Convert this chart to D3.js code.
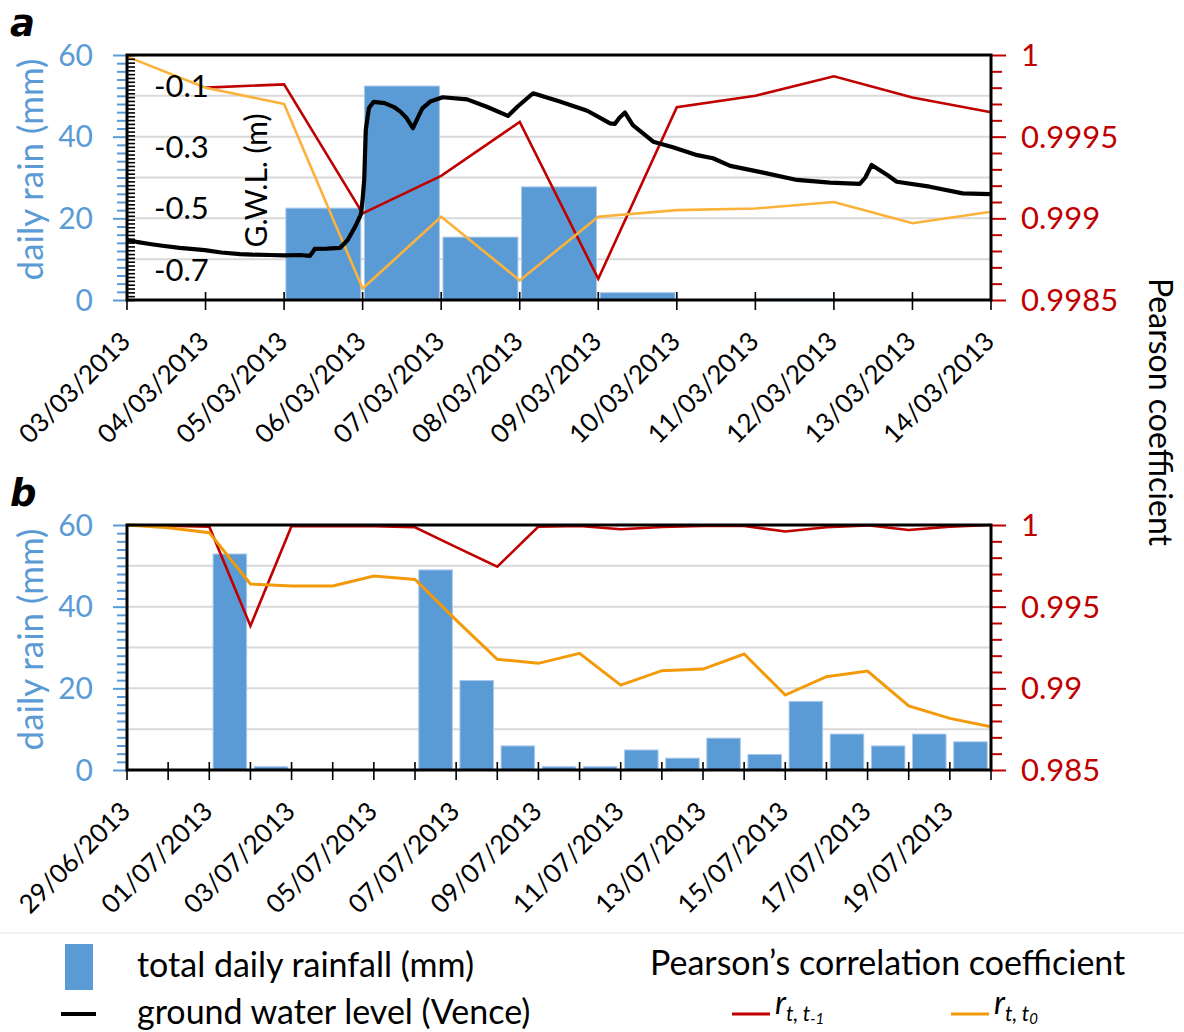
<!DOCTYPE html>
<html><head><meta charset="utf-8">
<script src="https://cdn.jsdelivr.net/npm/d3@7/dist/d3.min.js"></script>
<style>
body{margin:0;background:#fff;}
svg{display:block;font-family:Lato,"Noto Sans",sans-serif;}
</style></head>
<body><svg id="c" width="1184" height="1032"></svg>
<script>
// ---------- DATA ----------
const datesA = ["03/03/2013","04/03/2013","05/03/2013","06/03/2013","07/03/2013","08/03/2013","09/03/2013","10/03/2013","11/03/2013","12/03/2013","13/03/2013","14/03/2013"];
const rainA = [0, 0, 22.5, 52.4, 15.4, 27.7, 1.8, 0, 0.3, 0, 0];
const rTt1A = [null, 0.99980, 0.99982, 0.99903, 0.99926, 0.99959, 0.99863, 0.99968, 0.99975, 0.99987, 0.99974, 0.99965];
const rTt0A = [0.99999, 0.99980, 0.99970, 0.99857, 0.99901, 0.99862, 0.99901, 0.99905, 0.99906, 0.99910, 0.99897, 0.99904];
// ground water level: days since 03/03/2013 and level (m)
const gwlDay = [0,0.12,0.29,0.45,0.67,0.85,0.99,1.2,1.44,1.6,1.82,2.0,2.2,2.33,2.36,2.39,2.55,2.71,2.81,2.91,2.98,3.0,3.02,3.04,3.08,3.14,3.28,3.4,3.48,3.56,3.64,3.7,3.76,3.86,4.02,4.33,4.58,4.85,4.97,5.17,5.51,5.86,6.15,6.21,6.27,6.34,6.44,6.7,6.95,7.26,7.46,7.68,8.1,8.53,8.95,9.33,9.4,9.48,9.68,9.8,10.22,10.64,10.99];
const gwlLevel = [-0.604,-0.610,-0.617,-0.623,-0.630,-0.634,-0.637,-0.645,-0.650,-0.652,-0.653,-0.654,-0.653,-0.656,-0.645,-0.633,-0.632,-0.630,-0.604,-0.558,-0.519,-0.47,-0.408,-0.245,-0.173,-0.153,-0.157,-0.17,-0.185,-0.206,-0.239,-0.206,-0.174,-0.152,-0.138,-0.145,-0.169,-0.199,-0.169,-0.125,-0.152,-0.182,-0.223,-0.225,-0.205,-0.188,-0.229,-0.283,-0.301,-0.327,-0.337,-0.362,-0.384,-0.408,-0.417,-0.421,-0.400,-0.359,-0.392,-0.414,-0.430,-0.452,-0.454];

const datesB = ["29/06/2013","30/06/2013","01/07/2013","02/07/2013","03/07/2013","04/07/2013","05/07/2013","06/07/2013","07/07/2013","08/07/2013","09/07/2013","10/07/2013","11/07/2013","12/07/2013","13/07/2013","14/07/2013","15/07/2013","16/07/2013","17/07/2013","18/07/2013","19/07/2013","20/07/2013"];
const rainB = [0, 0, 52.9, 0.8, 0, 0, 0, 49, 21.9, 5.9, 0.8, 0.8, 4.9, 2.9, 7.8, 3.8, 16.8, 8.8, 5.9, 8.8, 6.9];
const rTt1B = [1.0, 0.99995, 0.99990, 0.99382, 0.99994, 0.99993, 0.99992, 0.99986, 0.99865, 0.99745, 0.99990, 0.99994, 0.99974, 0.99988, 0.99994, 0.99994, 0.99960, 0.99986, 0.99998, 0.99969, 0.99990, 1.0];
const rTt0B = [1.0, 0.99983, 0.99953, 0.99639, 0.99627, 0.99627, 0.99688, 0.99666, 0.99418, 0.99178, 0.99153, 0.99214, 0.99020, 0.99108, 0.99118, 0.99210, 0.98959, 0.99071, 0.99106, 0.98892, 0.98816, 0.98765];

const rainTicks = [0, 20, 40, 60];
const gwlTicks = [-0.7, -0.5, -0.3, -0.1];
const pearsonTicksA = [0.9985, 0.999, 0.9995, 1];
const pearsonTicksB = [0.985, 0.99, 0.995, 1];

// ---------- STYLE ----------
const BLUE = "#5b9bd5", RED = "#c00000", ORANGE_A = "#fbb23a", ORANGE_B = "#f39a0b";
const L = 127, R = 991;
const svg = d3.select("#c");

function panel(opt) {
  const g = svg.append("g");
  const n = opt.dates.length - 1;
  const x = d3.scaleLinear().domain([0, n]).range([L, R]);
  const y = d3.scaleLinear().domain([0, 60]).range([opt.bottom, opt.top]);
  const yr = d3.scaleLinear().domain(opt.rDomain).range([opt.bottom, opt.top]);

  // gridlines
  g.append("g").selectAll("line").data(d3.range(10, 61, 10)).join("line")
    .attr("x1", L).attr("x2", R).attr("y1", d => y(d)).attr("y2", d => y(d))
    .attr("stroke", "#d9d9d9").attr("stroke-width", 2);

  // bars
  const pad = opt.barPad;
  g.append("g").selectAll("rect").data(opt.rain).join("rect")
    .attr("x", (d, i) => x(i) + pad)
    .attr("width", x(1) - x(0) - 2 * pad)
    .attr("y", d => y(d)).attr("height", d => y(0) - y(d))
    .attr("fill", BLUE).attr("stroke", "#a9c8ea").attr("stroke-width", 1);

  // lines
  const lineI = d3.line().defined(d => d[1] != null).x(d => x(d[0])).y(d => yr(d[1]));
  g.append("path").datum(opt.r1.map((v, i) => [i, v])).attr("d", lineI)
    .attr("fill", "none").attr("stroke", RED).attr("stroke-width", 2.6).attr("stroke-linejoin", "miter");
  g.append("path").datum(opt.r0.map((v, i) => [i, v])).attr("d", lineI)
    .attr("fill", "none").attr("stroke", opt.orange).attr("stroke-width", opt.orangeW).attr("stroke-linejoin", "miter");

  if (opt.gwl) {
    const yg = d3.scaleLinear().domain([-0.8, 0]).range([opt.bottom, opt.top]);
    g.append("path").datum(gwlDay.map((d, i) => [d, gwlLevel[i]]))
      .attr("d", d3.line().x(d => x(d[0])).y(d => yg(d[1])))
      .attr("fill", "none").attr("stroke", "#000").attr("stroke-width", 4.2).attr("stroke-linejoin", "round");
    // inner GWL axis ticks
    const gax = g.append("g").attr("transform", `translate(${L},0)`)
      .call(d3.axisRight(yg).tickValues(d3.range(-0.8, 0.0001, 0.0125)).tickSize(8).tickFormat(""));
    gax.select(".domain").remove();
    gax.selectAll("line").attr("stroke", "#000").attr("stroke-width", 1.6);
    g.append("g").selectAll("text").data(gwlTicks).join("text")
      .attr("x", 154).attr("y", d => yg(d)).attr("dy", "0.36em")
      .attr("font-size", 31).attr("fill", "#000").text(d => d3.format(".1f")(d).replace("−", "-"));
    g.append("text").attr("transform", `translate(267,${(opt.top + opt.bottom) / 2 + 3}) rotate(-90)`)
      .attr("text-anchor", "middle").attr("font-size", 30).attr("fill", "#000").text("G.W.L. (m)");
  }

  // left rain axis (blue ticks)
  const la = g.append("g").attr("transform", `translate(${L},0)`)
    .call(d3.axisLeft(y).tickValues(d3.range(0, 61, 2)).tickSize(10).tickFormat(""));
  la.select(".domain").remove();
  la.selectAll("line").attr("stroke", BLUE).attr("stroke-width", 2);
  la.selectAll(".tick").filter(d => d % 20 === 0).select("line").attr("x2", -14);
  g.append("g").selectAll("text").data(rainTicks).join("text")
    .attr("x", 93).attr("y", d => y(d)).attr("dy", "0.36em").attr("text-anchor", "end")
    .attr("font-size", 30).attr("fill", BLUE).text(d => d);
  g.append("text").attr("transform", `translate(43,${(opt.top + opt.bottom) / 2 - 8}) rotate(-90)`)
    .attr("text-anchor", "middle").attr("font-size", 35).attr("fill", BLUE).text("daily rain (mm)");

  // right pearson axis
  const ra = g.append("g").attr("transform", `translate(${R},0)`)
    .call(d3.axisRight(yr).tickValues(d3.range(0, 16).map(i => opt.rDomain[0] + i * (opt.rDomain[1] - opt.rDomain[0]) / 15)).tickSize(11).tickFormat(""));
  ra.select(".domain").remove();
  ra.selectAll("line").attr("stroke", RED).attr("stroke-width", 2);
  ra.selectAll(".tick").filter((d, i) => i % 5 === 0).select("line").attr("x2", 15);
  g.append("g").selectAll("text").data(opt.rTicks).join("text")
    .attr("x", 1021).attr("y", d => yr(d)).attr("dy", "0.36em")
    .attr("font-size", 31).attr("fill", RED).text(d => d);

  // x axis ticks
  g.append("g").selectAll("line").data(d3.range(0, n + 1)).join("line")
    .attr("x1", d => x(d)).attr("x2", d => x(d)).attr("y1", opt.bottom - 8).attr("y2", opt.bottom + 10)
    .attr("stroke", "#000").attr("stroke-width", 1.6);
  g.append("g").selectAll("text").data(opt.dates.map((d, i) => [d, i]).filter(d => d[1] % opt.labelEvery === 0 && d[1] < opt.labelMax)).join("text")
    .attr("transform", d => `translate(${x(d[1]) + 5},${opt.bottom + 43}) rotate(-45)`)
    .attr("text-anchor", "end").attr("font-size", 26).attr("fill", "#000").text(d => d[0]);

  // frame
  g.append("rect").attr("x", L).attr("y", opt.top).attr("width", R - L).attr("height", opt.bottom - opt.top)
    .attr("fill", "none").attr("stroke", "#000").attr("stroke-width", 3);

  // panel letter
  g.append("text").attr("x", 10).attr("y", opt.top - 19).attr("font-size", 37)
    .attr("font-family", "'DejaVu Sans',sans-serif")
    .attr("font-weight", "bold").attr("font-style", "italic").attr("fill", "#000").text(opt.letter);
}

panel({dates: datesA, rain: rainA, r1: rTt1A, r0: rTt0A, top: 55, bottom: 300, rDomain: [0.9985, 1], rTicks: pearsonTicksA,
  barPad: 1.8, orange: ORANGE_A, orangeW: 2.6, gwl: true, labelEvery: 1, labelMax: 99, letter: "a"});
panel({dates: datesB, rain: rainB, r1: rTt1B, r0: rTt0B, top: 525, bottom: 770, rDomain: [0.985, 1], rTicks: pearsonTicksB,
  barPad: 3.8, orange: ORANGE_B, orangeW: 3, gwl: false, labelEvery: 2, labelMax: 21, letter: "b"});

// right title
svg.append("text").attr("transform", "translate(1149,412) rotate(90)").attr("text-anchor", "middle")
  .attr("font-size", 32).attr("fill", "#000").text("Pearson coefficient");

// legend
const lg = svg.append("g");
lg.append("line").attr("x1", 0).attr("x2", 1184).attr("y1", 933).attr("y2", 933).attr("stroke", "#eeeeee").attr("stroke-width", 1.5);
lg.append("rect").attr("x", 65).attr("y", 944).attr("width", 28).attr("height", 46).attr("fill", BLUE);
lg.append("text").attr("x", 137).attr("y", 977).attr("font-size", 34).attr("fill", "#000").text("total daily rainfall (mm)");
lg.append("line").attr("x1", 61).attr("x2", 96).attr("y1", 1014).attr("y2", 1014).attr("stroke", "#000").attr("stroke-width", 4);
lg.append("text").attr("x", 137).attr("y", 1024).attr("font-size", 34).attr("fill", "#000").text("ground water level (Vence)");
lg.append("text").attr("x", 650).attr("y", 975).attr("font-size", 34).attr("fill", "#000").text("Pearson\u2019s correlation coefficient");
lg.append("line").attr("x1", 732).attr("x2", 770).attr("y1", 1014).attr("y2", 1014).attr("stroke", RED).attr("stroke-width", 3);
const t1 = lg.append("text").attr("x", 775).attr("y", 1014).attr("font-size", 32).attr("font-style", "italic").attr("fill", "#000");
t1.append("tspan").text("r");
t1.append("tspan").attr("font-size", 21).attr("dy", 7).text("t, t");
t1.append("tspan").attr("font-size", 15).attr("dy", 3).text("-1");
lg.append("line").attr("x1", 951).attr("x2", 989).attr("y1", 1014).attr("y2", 1014).attr("stroke", ORANGE_B).attr("stroke-width", 3);
const t0 = lg.append("text").attr("x", 994).attr("y", 1014).attr("font-size", 32).attr("font-style", "italic").attr("fill", "#000");
t0.append("tspan").text("r");
t0.append("tspan").attr("font-size", 21).attr("dy", 7).text("t, t");
t0.append("tspan").attr("font-size", 15).attr("dy", 3).text("0");
</script></body></html>
